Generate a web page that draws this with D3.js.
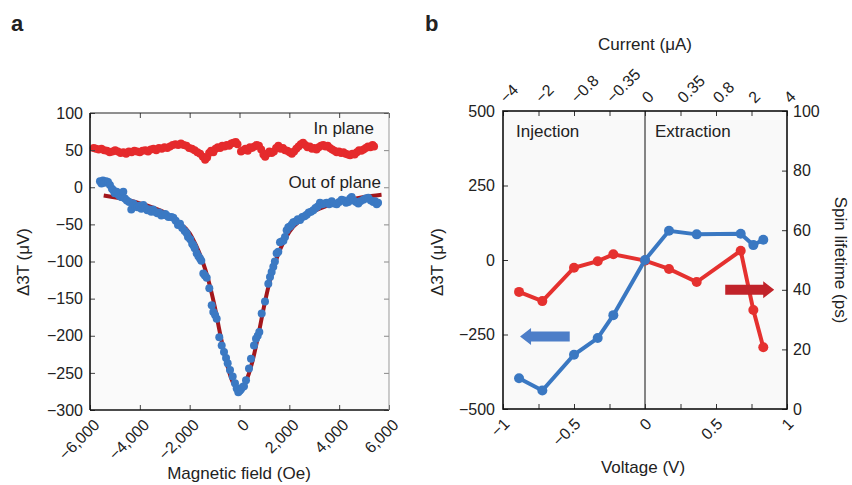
<!DOCTYPE html>
<html>
<head>
<meta charset="utf-8">
<script src="https://cdn.jsdelivr.net/npm/d3@7/dist/d3.min.js"></script>
<style>
  body { margin: 0; background: #fff; }
  svg text { font-family: "Liberation Sans", Arial, sans-serif; fill: #222; }
</style>
</head>
<body>
<div class="canvas"></div>
<script>
// ---- panel a data: [field (Oe), dT (uV)]
const inPlane = [
  [-5850,53],[-5760,52],[-5650,51],[-5540,52],[-5430,50],[-5320,49],[-5210,47],[-5100,48],[-4990,50],[-4880,48],
  [-4770,46],[-4660,47],[-4550,45],[-4440,48],[-4330,47],[-4220,49],[-4110,48],[-4000,47],[-3890,49],[-3780,50],
  [-3670,48],[-3560,51],[-3450,52],[-3340,50],[-3230,53],[-3120,52],[-3010,54],[-2900,53],[-2790,55],[-2680,57],
  [-2570,58],[-2460,57],[-2350,59],[-2240,57],[-2130,56],[-2020,53],[-1910,52],[-1800,50],[-1690,47],[-1580,45],
  [-1470,41],[-1380,37],[-1300,40],[-1220,46],[-1140,49],[-1050,47],[-960,52],[-870,54],[-780,53],[-690,56],
  [-600,55],[-510,57],[-420,56],[-330,59],[-240,60],[-150,61],[-80,58],
  [60,48],[150,50],[240,52],[330,49],[420,54],[510,53],[600,55],[690,57],[780,56],[870,51],[960,44],[1030,41],
  [1110,45],[1200,48],[1290,46],[1380,48],[1470,53],[1560,56],[1650,52],[1740,53],[1830,50],[1920,49],[2010,47],
  [2100,45],[2190,48],[2280,52],[2370,55],[2460,58],[2550,60],[2640,57],[2730,54],[2820,55],[2910,52],[3000,53],
  [3090,51],[3180,54],[3270,56],[3360,57],[3450,55],[3540,56],[3630,53],[3720,51],[3810,49],[3900,47],[3990,48],
  [4080,46],[4170,47],[4260,45],[4350,44],[4440,43],[4530,45],[4620,44],[4710,47],[4800,50],[4890,49],[4980,51],
  [5070,53],[5160,55],[5250,54],[5340,57],[5400,55]
];

const outPlane = [
  [-5600,8],[-5540,5],[-5480,9],[-5420,6],[-5350,8],[-5277,7],[-5200,3],[-5120,-2],[-5064,-4],[-5008,-8],
  [-4930,-6],[-4860,-10],[-4800,-12],[-4742,-13],[-4663,-6],[-4600,-15],[-4520,-18],[-4430,-20],[-4342,-30],[-4262,-22],
  [-4180,-25],[-4100,-27],[-4020,-25],[-3941,-29],[-3861,-24],[-3780,-28],[-3700,-31],[-3620,-30],[-3540,-33],[-3470,-30],
  [-3391,-33],[-3300,-35],[-3220,-34],[-3138,-38],[-3050,-37],[-2980,-36],[-2922,-38],[-2850,-40],[-2737,-40],[-2656,-41],
  [-2560,-45],[-2468,-51],[-2388,-49],[-2300,-55],[-2200,-59],[-2119,-62],[-2067,-67],[-1980,-70],[-1900,-76],[-1854,-78],
  [-1798,-82],[-1718,-89],[-1650,-93],[-1585,-96],[-1533,-99],[-1453,-116],[-1390,-119],[-1316,-122],[-1212,-136],[-1116,-159],
  [-1051,-168],[-980,-172],[-915,-177],[-811,-202],[-714,-213],[-622,-222],[-540,-230],[-474,-237],[-381,-246],[-273,-255],
  [-181,-264],[-112,-271],[-48,-276],[10,-274],[60,-272],[128,-269],[180,-268],[261,-260],[381,-244],[461,-231],
  [582,-213],[662,-204],[730,-200],[795,-195],[891,-170],[1023,-154],[1156,-130],[1224,-121],[1290,-114],[1357,-107],
  [1420,-100],[1491,-89],[1558,-87],[1625,-74],[1692,-73],[1760,-72],[1826,-67],[1893,-58],[1960,-54],[2027,-53],
  [2100,-50],[2159,-47],[2250,-46],[2340,-43],[2428,-44],[2520,-40],[2610,-39],[2696,-37],[2780,-34],[2870,-33],
  [2962,-31],[3050,-28],[3140,-26],[3230,-21],[3320,-23],[3410,-22],[3499,-21],[3600,-23],[3700,-19],[3800,-22],
  [3900,-23],[4000,-20],[4101,-17],[4200,-18],[4280,-21],[4366,-20],[4440,-15],[4502,-13],[4580,-18],[4680,-20],
  [4768,-22],[4850,-19],[4968,-17],[5060,-15],[5169,-14],[5270,-18],[5370,-20],[5440,-19],[5506,-23],[5560,-21]
];

// fitted curve
const fitCurve = [
  [-5450,-11],[-4500,-17],[-3500,-27],[-3000,-34],[-2500,-46],[-2000,-62],[-1750,-78],[-1500,-98],[-1250,-125],
  [-1000,-160],[-750,-202],[-500,-239],[-250,-264],[0,-273],[250,-262],[500,-237],[750,-200],[1000,-158],
  [1250,-122],[1500,-95],[1750,-75],[2000,-60],[2500,-43],[3000,-32],[3500,-25],[4000,-20],[4500,-16],
  [5000,-13],[5700,-10]
];

const fieldTicks = [-6000,-4000,-2000,0,2000,4000,6000];
const dtTicksA = [100,50,0,-50,-100,-150,-200,-250,-300];

// ---- panel b data
const voltage = [-0.887,-0.723,-0.5,-0.333,-0.223,0,0.169,0.364,0.674,0.763,0.833];
const deltaT = [-397,-438,-318,-262,-185,0,98,86,88,50,68];
const lifetime = [39.3,36.2,47.4,49.6,51.9,49.8,47.0,42.6,53.1,33.2,20.7];

const currentLabels = ['\u22124','\u22122','\u22120.8','\u22120.35','0','0.35','0.8','2','4'];
const voltTicks = [-1,-0.75,-0.5,-0.25,0,0.25,0.5,0.75,1];
const voltLabels = [-1,-0.5,0,0.5,1];
const dtTicksB = [500,250,0,-250,-500];
const lifeTicks = [0,20,40,60,80,100];

const svg = d3.select('.canvas')
  .append('svg')
  .attr('width', 852)
  .attr('height', 485);

const fmt = d3.format(',');
const tickFont = 16;

// ================= panel a =================
const xA = d3.scaleLinear().domain([-6000,6000]).range([90,389]);
const yA = d3.scaleLinear().domain([-300,100]).range([410,113]);

const ga = svg.append('g');

ga.append('rect')
  .attr('x', 90).attr('y', 113)
  .attr('width', 299).attr('height', 297)
  .attr('fill', '#fafafa');

// fit line under the points
ga.append('path')
  .datum(fitCurve)
  .attr('fill', 'none')
  .attr('stroke', '#a3161b')
  .attr('stroke-width', 4)
  .attr('d', d3.line().x(d => xA(d[0])).y(d => yA(d[1])).curve(d3.curveMonotoneX));

ga.selectAll('circle.inp')
  .data(inPlane)
  .enter().append('circle')
    .attr('class', 'inp')
    .attr('cx', d => xA(d[0]))
    .attr('cy', d => yA(d[1]))
    .attr('r', 4)
    .attr('fill', '#e52a2c');

ga.selectAll('circle.outp')
  .data(outPlane)
  .enter().append('circle')
    .attr('class', 'outp')
    .attr('cx', d => xA(d[0]))
    .attr('cy', d => yA(d[1]))
    .attr('r', 4)
    .attr('fill', '#3b79c3');

// axes (ticks pointing inward)
const axA_left = ga.append('g').attr('transform', 'translate(90,0)')
  .call(d3.axisLeft(yA).tickValues(dtTicksA).tickSize(-5).tickPadding(7).tickFormat(d => d3.format('')(d)));
const axA_right = ga.append('g').attr('transform', 'translate(389,0)')
  .call(d3.axisRight(yA).tickValues(dtTicksA).tickSize(-5).tickFormat(''));
const axA_top = ga.append('g').attr('transform', 'translate(0,113)')
  .call(d3.axisTop(xA).tickValues(fieldTicks).tickSize(-5).tickFormat(''));
const axA_bottom = ga.append('g').attr('transform', 'translate(0,410)')
  .call(d3.axisBottom(xA).tickValues(fieldTicks).tickSize(-5).tickFormat(d => fmt(d)));

[axA_left, axA_right, axA_top, axA_bottom].forEach(g => {
  g.select('.domain').remove();
  g.selectAll('line').attr('stroke', '#444');
  g.selectAll('text').attr('font-size', tickFont).attr('fill', '#222');
});
axA_right.selectAll('line').attr('stroke', '#888');

axA_bottom.selectAll('text')
  .attr('text-anchor', 'end')
  .attr('dy', '0.35em')
  .attr('y', 0)
  .attr('transform', 'translate(6,12) rotate(-45)');

// frame
ga.append('line').attr('x1', 90).attr('x2', 90).attr('y1', 113).attr('y2', 410).attr('stroke', '#111').attr('stroke-width', 1.6);
ga.append('line').attr('x1', 90).attr('x2', 389).attr('y1', 410).attr('y2', 410).attr('stroke', '#111').attr('stroke-width', 1.6);
ga.append('line').attr('x1', 90).attr('x2', 389).attr('y1', 113).attr('y2', 113).attr('stroke', '#222').attr('stroke-width', 1.2);
ga.append('line').attr('x1', 389).attr('x2', 389).attr('y1', 113).attr('y2', 410).attr('stroke', '#999').attr('stroke-width', 1);

ga.append('text').attr('x', 374).attr('y', 134).attr('text-anchor', 'end').attr('font-size', 17).text('In plane');
ga.append('text').attr('x', 381).attr('y', 188).attr('text-anchor', 'end').attr('font-size', 17).text('Out of plane');

ga.append('text').attr('x', 239).attr('y', 479).attr('text-anchor', 'middle').attr('font-size', 17).text('Magnetic field (Oe)');
ga.append('text')
  .attr('transform', 'translate(29,262) rotate(-90)')
  .attr('text-anchor', 'middle').attr('font-size', 17)
  .text('\u03943T (\u03bcV)');

svg.append('text').attr('x', 11).attr('y', 31).attr('font-size', 22).attr('font-weight', 'bold').text('a');

// ================= panel b =================
const xB = d3.scaleLinear().domain([-1,1]).range([503,787]);
const yB = d3.scaleLinear().domain([-500,500]).range([409,111]);
const yR = d3.scaleLinear().domain([0,100]).range([409,111]);
const xTop = d3.scalePoint().domain(currentLabels).range([503,787]);

const gb = svg.append('g');

gb.append('rect')
  .attr('x', 503).attr('y', 111)
  .attr('width', 284).attr('height', 298)
  .attr('fill', '#f9f9f9');

gb.append('line')
  .attr('x1', xB(0)).attr('x2', xB(0))
  .attr('y1', 111).attr('y2', 409)
  .attr('stroke', '#111').attr('stroke-width', 1);

const ptsB = voltage.map((v, i) => ({v: v, dt: deltaT[i], life: lifetime[i]}));

// red: spin lifetime (right axis)
gb.append('path')
  .datum(ptsB)
  .attr('fill', 'none')
  .attr('stroke', '#e5312f')
  .attr('stroke-width', 4)
  .attr('d', d3.line().x(d => xB(d.v)).y(d => yR(d.life)));

gb.selectAll('circle.life')
  .data(ptsB)
  .enter().append('circle')
    .attr('class', 'life')
    .attr('cx', d => xB(d.v))
    .attr('cy', d => yR(d.life))
    .attr('r', 5)
    .attr('fill', '#e5312f');

// blue: delta 3T (left axis)
gb.append('path')
  .datum(ptsB)
  .attr('fill', 'none')
  .attr('stroke', '#3a78c2')
  .attr('stroke-width', 4)
  .attr('d', d3.line().x(d => xB(d.v)).y(d => yB(d.dt)));

gb.selectAll('circle.dt')
  .data(ptsB)
  .enter().append('circle')
    .attr('class', 'dt')
    .attr('cx', d => xB(d.v))
    .attr('cy', d => yB(d.dt))
    .attr('r', 5)
    .attr('fill', '#3a78c2');

// arrows telling which axis each series uses
function arrow(tipX, tailX, y, shaft, head, headLen, color) {
  const dir = tailX > tipX ? 1 : -1;
  const hx = tipX + dir * headLen;
  const pts = [
    [tipX, y], [hx, y - head / 2], [hx, y - shaft / 2], [tailX, y - shaft / 2],
    [tailX, y + shaft / 2], [hx, y + shaft / 2], [hx, y + head / 2]
  ];
  gb.append('polygon')
    .attr('points', pts.map(p => p.join(',')).join(' '))
    .attr('fill', color);
}
arrow(xB(-0.88), xB(-0.53), yB(-257), 10, 17, 11, '#4d7ec8');
arrow(xB(0.91), xB(0.565), yR(40), 10, 17, 11, '#c1232a');

// axes
const axB_left = gb.append('g').attr('transform', 'translate(503,0)')
  .call(d3.axisLeft(yB).tickValues(dtTicksB).tickSize(-5).tickPadding(8).tickFormat(d => d3.format('')(d)));
const axB_right = gb.append('g').attr('transform', 'translate(787,0)')
  .call(d3.axisRight(yR).tickValues(lifeTicks).tickSize(-5).tickPadding(6));
const axB_bottom = gb.append('g').attr('transform', 'translate(0,409)')
  .call(d3.axisBottom(xB).tickValues(voltTicks).tickSize(-5)
    .tickFormat(d => voltLabels.includes(d) ? d3.format('')(d) : ''));
const axB_top = gb.append('g').attr('transform', 'translate(0,111)')
  .call(d3.axisTop(xTop).tickSize(-5));

[axB_left, axB_right, axB_top, axB_bottom].forEach(g => {
  g.select('.domain').remove();
  g.selectAll('line').attr('stroke', '#333');
  g.selectAll('text').attr('font-size', tickFont).attr('fill', '#222');
});

axB_bottom.selectAll('text')
  .attr('text-anchor', 'end')
  .attr('dy', '0.35em')
  .attr('y', 0)
  .attr('transform', 'translate(3,12) rotate(-45)');

axB_top.selectAll('text')
  .attr('text-anchor', 'start')
  .attr('dy', '0.35em')
  .attr('y', 0)
  .attr('transform', 'translate(-1,-11) rotate(-45)');

gb.append('rect')
  .attr('x', 503).attr('y', 111)
  .attr('width', 284).attr('height', 298)
  .attr('fill', 'none')
  .attr('stroke', '#111').attr('stroke-width', 1.6);

gb.append('text').attr('x', 516).attr('y', 137).attr('font-size', 17).text('Injection');
gb.append('text').attr('x', 655).attr('y', 137).attr('font-size', 17).text('Extraction');

gb.append('text').attr('x', 645).attr('y', 50).attr('text-anchor', 'middle').attr('font-size', 17).text('Current (\u03bcA)');
gb.append('text').attr('x', 643).attr('y', 473).attr('text-anchor', 'middle').attr('font-size', 17).text('Voltage (V)');
gb.append('text')
  .attr('transform', 'translate(443,262) rotate(-90)')
  .attr('text-anchor', 'middle').attr('font-size', 17)
  .text('\u03943T (\u03bcV)');
gb.append('text')
  .attr('transform', 'translate(835,260) rotate(90)')
  .attr('text-anchor', 'middle').attr('font-size', 17)
  .text('Spin lifetime (ps)');

svg.append('text').attr('x', 425).attr('y', 31).attr('font-size', 22).attr('font-weight', 'bold').text('b');
</script>
</body>
</html>
